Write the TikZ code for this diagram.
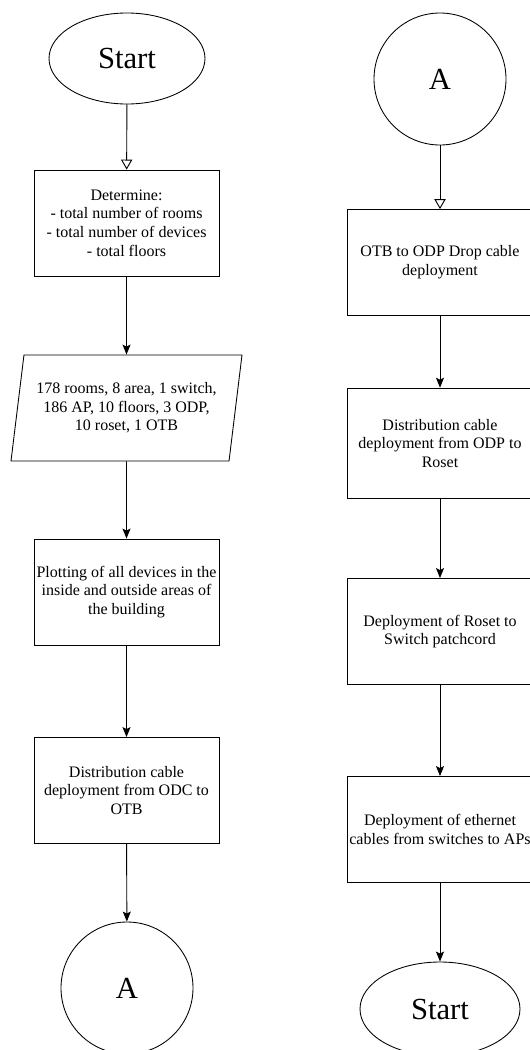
\documentclass[tikz,border=0pt]{standalone}
\usepackage{fontspec}
\setmainfont{Liberation Serif}
\usetikzlibrary{shapes.geometric,arrows.meta}

\begin{document}
\begin{tikzpicture}[x=0.75pt,y=-0.75pt,
    every node/.style={font=\fontsize{12}{14}\selectfont, align=center, inner sep=0pt},
    box/.style={draw, line width=0.65pt, minimum width=138.75pt, minimum height=79.5pt},
    term/.style={draw, line width=0.65pt, ellipse, font=\fontsize{23}{26}\selectfont},
    conn/.style={draw, line width=0.65pt, circle, minimum size=99pt, font=\fontsize{23}{26}\selectfont},
    datain/.style={draw, line width=0.65pt, trapezium, trapezium left angle=75.7, trapezium right angle=104.3,
      trapezium stretches body, minimum width=173.25pt, minimum height=79.5pt},
    flow/.style={line width=0.7pt, -{Stealth[length=7.5pt,width=6pt,inset=1.5pt]}},
    flowopen/.style={line width=0.7pt, -{Triangle[open,length=7.5pt,width=8.5pt]}}]
    \clip (0,0) rectangle (530,1050) ;
    \node[term, minimum width=117pt, minimum height=68.25pt] (start1) at (127,58.5) {Start} ;
    \node[box] (det) at (126.5,223) {Determine:\\- total number of rooms\\- total number of devices\\- total floors} ;
    \node[datain] (data) at (126.5,408) {178 rooms, 8 area, 1 switch,\\186 AP, 10 floors, 3 ODP,\\10 roset, 1 OTB} ;
    \node[box] (plot) at (126.5,592) {Plotting of all devices in the\\inside and outside areas of\\the building} ;
    \node[box] (odc) at (126.5,790.5) {Distribution cable\\deployment from ODC to\\OTB} ;
    \node[conn] (a1) at (127,988) {A} ;
    \node[conn] (a2) at (440,79) {A} ;
    \node[box, minimum width=139.5pt] (drop) at (440,262.5) {OTB to ODP Drop cable\\deployment} ;
    \node[box, minimum width=139.5pt, minimum height=83pt] (odp) at (440,443.5) {Distribution cable\\deployment from ODP to\\Roset} ;
    \node[box, minimum width=139.5pt] (roset) at (440,631.5) {Deployment of Roset to\\Switch patchcord} ;
    \node[box, minimum width=139.5pt] (eth) at (440,829.5) {Deployment of ethernet\\cables from switches to APs} ;
    \node[term, minimum width=120pt, minimum height=70.5pt] (start2) at (440,1009) {Start} ;
    \draw[flowopen] (start1) -- (det) ;
    \draw[flow] (det) -- (data) ;
    \draw[flow] (data) -- (plot) ;
    \draw[flow] (plot) -- (odc) ;
    \draw[flow] (odc) -- (a1) ;
    \draw[flowopen] (a2) -- (drop) ;
    \draw[flow] (drop) -- (odp) ;
    \draw[flow] (odp) -- (roset) ;
    \draw[flow] (roset) -- (eth) ;
    \draw[flow] (eth) -- (start2) ;
  \end{tikzpicture}
\end{document}
